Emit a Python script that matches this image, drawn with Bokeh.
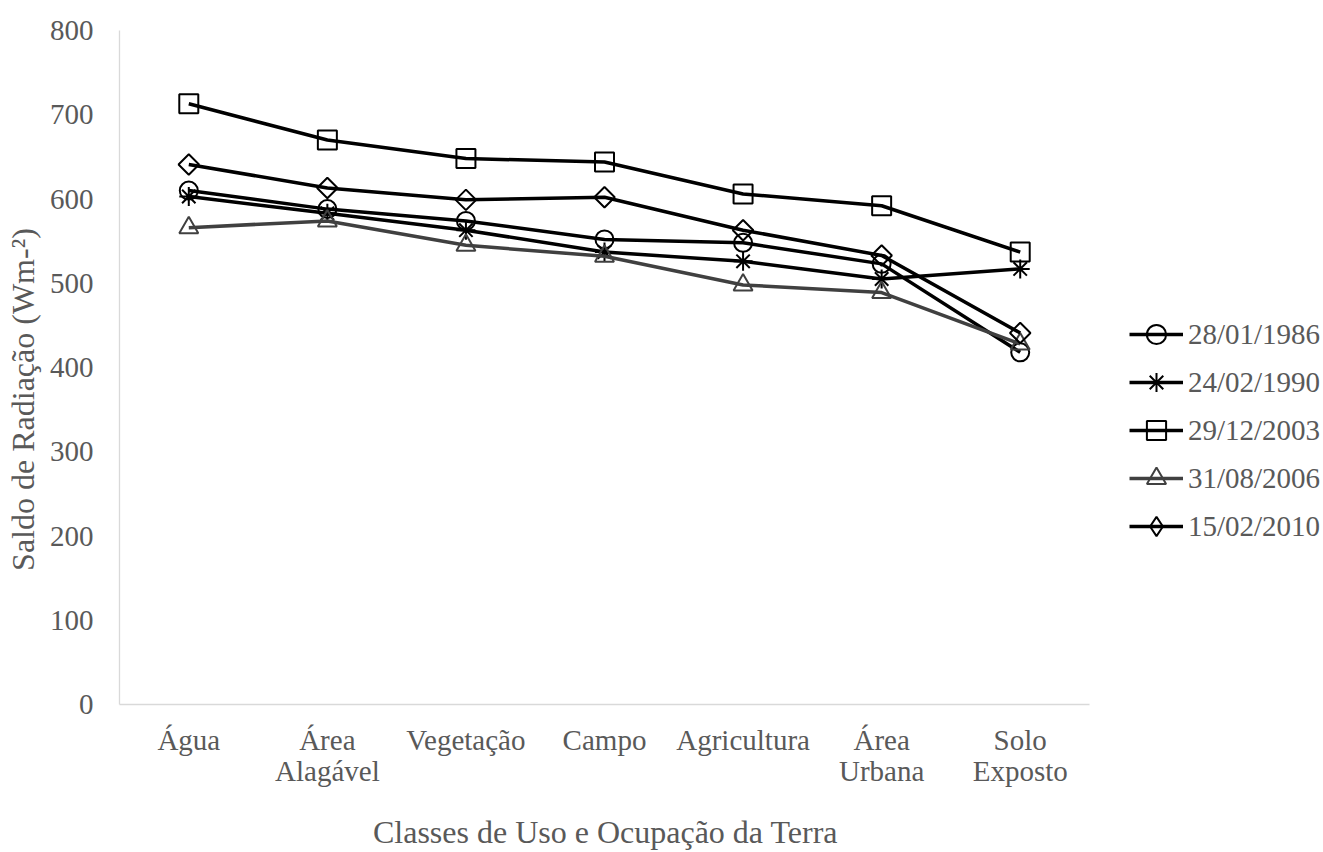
import math
from bokeh.plotting import figure
from bokeh.models import Legend, LegendItem, Range1d, FixedTicker
from bokeh.embed import file_html
from bokeh.resources import INLINE

# Land-use classes (x categories)
classes = ["Água", "Área\nAlagável", "Vegetação", "Campo", "Agricultura",
           "Área\nUrbana", "Solo\nExposto"]
xpos = [i + 0.5 for i in range(len(classes))]

# Net radiation (W m-2) per date
rn_1986 = [610, 588, 574, 552, 548, 523, 418]
rn_1990 = [603, 583, 563, 537, 526, 505, 517]
rn_2003 = [713, 670, 648, 644, 606, 592, 537]
rn_2006 = [566, 574, 545, 532, 498, 489, 428]
rn_2010 = [641, 613, 599, 602, 563, 533, 441]

series = [
    ("28/01/1986", rn_1986, "circle", "#000000"),
    ("24/02/1990", rn_1990, "asterisk", "#000000"),
    ("29/12/2003", rn_2003, "square", "#000000"),
    ("31/08/2006", rn_2006, "triangle", "#404040"),
    ("15/02/2010", rn_2010, "diamond", "#000000"),
]

FONT = "Liberation Serif"
TXT = "#595959"

W, H = 1323, 852
LEFT, TOP, BOTTOM = 119, 30, 147
PLOT_W = 970  # width of the category area; the rest on the right holds the legend
n = len(classes)
x_end = n * (W - LEFT) / PLOT_W

p = figure(width=W, height=H, x_range=Range1d(0, x_end),
           y_range=Range1d(0, 800), output_backend="svg",
           toolbar_location=None, min_border_left=LEFT, min_border_right=0,
           min_border_top=TOP, min_border_bottom=BOTTOM)
p.outline_line_color = None
p.xgrid.grid_line_color = None
p.ygrid.grid_line_color = None

sizes = {"circle": 18, "asterisk": 19, "square": 19, "triangle": 19}
items = []
for label, vals, marker, color in series:
    ln = p.line(xpos, vals, line_color=color, line_width=3.5)
    if marker == "diamond":
        # diamond drawn as a rotated square in the plot, slimmer one in the legend
        p.scatter(xpos, vals, marker="square", size=14.5, angle=math.pi / 4,
                  fill_color=None, line_color=color, line_width=2)
        sc = p.scatter(xpos, vals, marker="diamond", size=0, fill_color=None,
                       line_color=color, line_width=2)
    else:
        sc = p.scatter(xpos, vals, marker=marker, size=sizes[marker],
                       fill_color=None, line_color=color, line_width=2)
    items.append(LegendItem(label=label, renderers=[ln, sc]))

legend = Legend(items=items, location=(1010, 154), orientation="vertical",
                glyph_width=54, glyph_height=48, label_height=48, spacing=0,
                label_standoff=5, padding=0, margin=0,
                border_line_color=None, background_fill_alpha=0,
                label_text_font=FONT, label_text_font_size="29px",
                label_text_color=TXT)
p.add_layout(legend, "center")

for ax in (p.xaxis[0], p.yaxis[0]):
    ax.axis_line_color = "#d9d9d9"
    ax.axis_line_width = 1.3
    ax.major_tick_line_color = None
    ax.minor_tick_line_color = None
    ax.major_label_text_font = FONT
    ax.major_label_text_font_size = "29px"
    ax.major_label_text_color = TXT
    ax.axis_label_text_font = FONT
    ax.axis_label_text_font_size = "32px"
    ax.axis_label_text_color = TXT
    ax.axis_label_text_font_style = "normal"

p.xaxis.bounds = (0, n)
p.xaxis.ticker = FixedTicker(ticks=xpos)
p.xaxis.major_label_overrides = {x: c for x, c in zip(xpos, classes)}
p.xaxis.major_label_text_line_height = 0.97
p.xaxis.major_label_standoff = 13
# trailing spaces keep the title centred under the category area, not the legend
p.xaxis.axis_label = "Classes de Uso e Ocupação da Terra" + "\u00a0" * 29
p.xaxis.axis_label_standoff = 24

p.yaxis.ticker = [0, 100, 200, 300, 400, 500, 600, 700, 800]
p.yaxis.major_label_standoff = 20
p.yaxis.axis_label = "Saldo de Radiação (Wm-²)" + "\u00a0" * 8
p.yaxis.axis_label_standoff = 6

open("out.html", "w").write(file_html(p, INLINE))
